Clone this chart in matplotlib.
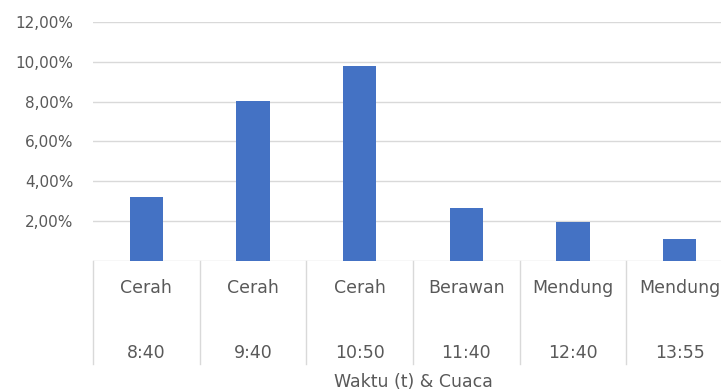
import matplotlib.pyplot as plt
import matplotlib.transforms as mtransforms

plt.rcParams['font.family'] = ['DejaVu Sans']

cuaca = ["Cerah", "Cerah", "Cerah", "Berawan", "Mendung", "Mendung"]
waktu = ["8:40", "9:40", "10:50", "11:40", "12:40", "13:55"]
persen = [3.2, 8.05, 9.8, 2.65, 1.95, 1.1]
yticks = [2, 4, 6, 8, 10, 12]

bar_color = "#4472C4"
grid_color = "#d9d9d9"
text_color = "#595959"

fig = plt.figure(figsize=(7.21, 3.92), dpi=100)
# axes run past the right edge, so the last category is cut off
ax = fig.add_axes([93 / 721, 131 / 392, 640 / 721, 239 / 392])

x = list(range(len(persen)))
ax.bar(x, persen, width=0.31, color=bar_color, zorder=3)

ax.set_xlim(-0.5, len(persen) - 0.5)
ax.set_ylim(0, 12)
ax.set_yticks(yticks)
ax.set_yticklabels([f"{v:.2f}%".replace(".", ",") for v in yticks])
for v in [0] + yticks:
    ax.axhline(v, color=grid_color, lw=1, zorder=1)

ax.tick_params(axis='y', length=0, pad=14, labelsize=11, labelcolor=text_color)
ax.set_xticks([])
for s in ax.spines.values():
    s.set_visible(False)

# two-level category labels below the axis
trans = mtransforms.blended_transform_factory(ax.transData, ax.transAxes)
for i in x:
    ax.text(i, -0.115, cuaca[i], transform=trans, ha='center', va='center',
            fontsize=12.5, color=text_color)
    ax.text(i, -0.385, waktu[i], transform=trans, ha='center', va='center',
            fontsize=12.5, color=text_color)
for i in range(len(persen) + 1):
    ax.plot([i - 0.5, i - 0.5], [0, -0.43], transform=trans, color=grid_color,
            lw=1, clip_on=False)

ax.text(0.5, -0.505, "Waktu (t) & Cuaca", transform=ax.transAxes, ha='center',
        va='center', fontsize=12.5, color=text_color)

fig.savefig("out.png", dpi=100)
